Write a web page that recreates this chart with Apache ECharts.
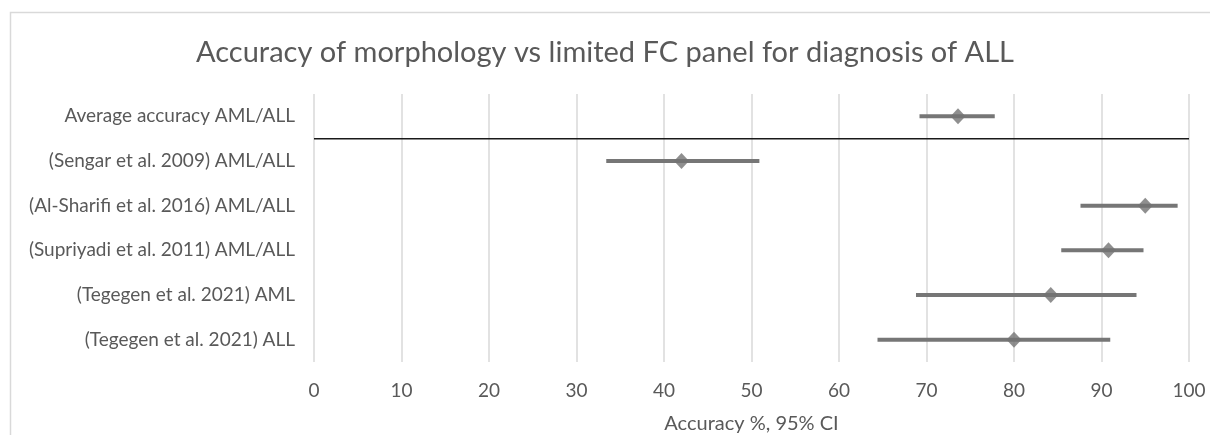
<!DOCTYPE html>
<html>
<head>
<meta charset="utf-8">
<script src="https://cdn.jsdelivr.net/npm/echarts@6/dist/echarts.min.js"></script>
<style>html,body{margin:0;padding:0;background:#fff;}#c{width:1210px;height:435px;}</style>
</head>
<body>
<div id="c"></div>
<script>
const categories = [
  'Average accuracy AML/ALL',
  '(Sengar et al. 2009) AML/ALL',
  '(Al-Sharifi et al. 2016) AML/ALL',
  '(Supriyadi et al. 2011) AML/ALL',
  '(Tegegen et al. 2021) AML',
  '(Tegegen et al. 2021) ALL'
];
const accuracy = [73.6, 42.0, 95.0, 90.8, 84.2, 80.0];
const lower95 = [69.2, 33.4, 87.6, 85.4, 68.8, 64.4];
const upper95 = [77.8, 50.9, 98.7, 94.8, 94.0, 91.0];
const xTicks = [0, 10, 20, 30, 40, 50, 60, 70, 80, 90, 100];
const separatorLevel = 5;

const FONT = 'Lato';
const GRAY = '#595959';
const chart = echarts.init(document.getElementById('c'));
chart.setOption({
  backgroundColor: '#fff',
  animation: false,
  title: {
    text: 'Accuracy of morphology vs limited FC panel for diagnosis of ALL',
    left: 'center',
    top: 33,
    textStyle: { fontFamily: FONT, fontSize: 29, fontWeight: 'normal', color: GRAY }
  },
  graphic: [{
    type: 'rect', left: 8, top: 10, silent: true,
    shape: { width: 1220, height: 440 },
    style: { fill: 'none', stroke: '#d9d9d9', lineWidth: 1.5 }
  }],
  grid: { left: 314, right: 21, top: 94, bottom: 73, containLabel: false, outerBoundsMode: 'none' },
  xAxis: {
    type: 'value', min: xTicks[0], max: xTicks[xTicks.length - 1], interval: 10,
    name: 'Accuracy %, 95% CI', nameLocation: 'middle', nameGap: 52,
    nameTextStyle: { fontFamily: FONT, fontSize: 20, color: GRAY },
    axisLine: { show: false }, axisTick: { show: false },
    axisLabel: { fontFamily: FONT, fontSize: 19, color: GRAY, margin: 19 },
    splitLine: { show: true, lineStyle: { color: '#d9d9d9', width: 1.5 } }
  },
  yAxis: [{
    type: 'category', data: categories, inverse: true,
    axisLine: { show: false }, axisTick: { show: false },
    axisLabel: { fontFamily: FONT, fontSize: 19, color: GRAY, margin: 19 },
    splitLine: { show: false }
  }, {
    type: 'value', min: 0, max: categories.length, show: false
  }],
  series: [{
    type: 'custom',
    yAxisIndex: 0,
    data: categories.map((c, i) => [lower95[i], upper95[i], i]),
    renderItem: function (params, api) {
      const a = api.coord([api.value(0), api.value(2)]);
      const b = api.coord([api.value(1), api.value(2)]);
      return {
        type: 'line',
        shape: { x1: a[0], y1: a[1], x2: b[0], y2: b[1] },
        style: { stroke: '#767676', lineWidth: 4 }
      };
    },
    encode: { x: [0, 1], y: 2 },
    z: 2
  }, {
    type: 'scatter',
    yAxisIndex: 0,
    data: categories.map((c, i) => [accuracy[i], i]),
    symbol: 'diamond',
    symbolSize: [15, 16],
    itemStyle: { color: '#737373' },
    z: 3
  }, {
    type: 'line',
    yAxisIndex: 1,
    data: [[xTicks[0], separatorLevel], [xTicks[xTicks.length - 1], separatorLevel]],
    symbol: 'none',
    lineStyle: { color: '#1a1a1a', width: 1.5 },
    z: 4
  }]
});
</script>
</body>
</html>
